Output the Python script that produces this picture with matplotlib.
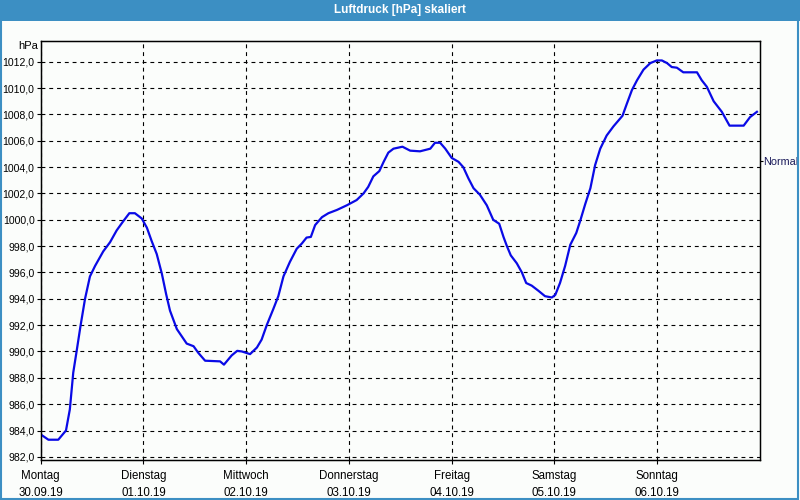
import matplotlib.pyplot as plt
from matplotlib.patches import Rectangle

plt.rcParams['font.family'] = ['Liberation Sans', 'DejaVu Sans']

# Stunden ab Montag 30.09.19 00:00 und Luftdruck in hPa
hours = [0.0, 1.8, 4.1, 5.9, 6.8, 7.6, 8.4, 9.3, 10.35, 11.5, 12.7, 14.6, 16.2,
         17.75, 19.3, 20.7, 22.0, 23.6, 24.8, 25.9, 27.1, 28.3, 29.3, 30.2, 31.8,
         34.1, 35.7, 36.8, 38.4, 41.9, 42.8, 44.6, 45.9, 47.0, 48.9, 50.5, 51.6,
         52.8, 54.3, 55.5, 56.7, 58.2, 59.8, 61.0, 62.1, 63.1, 64.1, 65.7, 67.2,
         69.2, 71.5, 73.8, 75.4, 76.5, 77.7, 79.1, 80.1, 81.2, 82.4, 84.5, 86.3,
         88.6, 91.0, 92.1, 93.3, 94.5, 96.0, 97.6, 98.7, 99.9, 101.1, 102.6,
         104.2, 105.7, 107.1, 108.1, 108.9, 109.8, 111.2, 112.4, 113.4, 114.7,
         116.3, 117.8, 119.4, 120.2, 121.3, 122.5, 123.7, 125.1, 126.0, 127.2,
         128.4, 129.5, 130.7, 132.2, 133.8, 135.9, 136.9, 138.1, 139.3, 140.8,
         142.4, 143.9, 145.1, 146.3, 147.4, 148.6, 150.1, 153.3, 154.4, 155.6,
         157.2, 159.1, 160.9, 164.2, 165.7, 167.3]
pressure = [983.7, 983.3, 983.3, 984.0, 985.6, 988.4, 990.05, 991.95, 994.0,
            995.7, 996.5, 997.6, 998.3, 999.2, 999.9, 1000.5, 1000.5, 1000.1,
            999.4, 998.4, 997.4, 995.9, 994.35, 993.1, 991.7, 990.6, 990.4,
            989.9, 989.3, 989.25, 989.0, 989.7, 990.05, 990.0, 989.8, 990.3,
            990.9, 992.0, 993.2, 994.2, 995.7, 996.8, 997.8, 998.2, 998.65,
            998.7, 999.6, 1000.2, 1000.5, 1000.75, 1001.1, 1001.5, 1002.0,
            1002.5, 1003.3, 1003.7, 1004.4, 1005.1, 1005.4, 1005.55, 1005.25,
            1005.2, 1005.4, 1005.85, 1005.85, 1005.4, 1004.7, 1004.4, 1004.0,
            1003.15, 1002.4, 1001.9, 1001.1, 1000.0, 999.7, 998.7, 998.0, 997.3,
            996.7, 996.0, 995.2, 995.0, 994.6, 994.2, 994.1, 994.3, 995.2,
            996.5, 998.1, 999.0, 999.9, 1001.2, 1002.4, 1004.15, 1005.4, 1006.4,
            1007.1, 1007.9, 1008.8, 1009.85, 1010.6, 1011.4, 1011.9, 1012.1,
            1012.1, 1011.9, 1011.6, 1011.55, 1011.2, 1011.2, 1010.6, 1010.1,
            1009.0, 1008.2, 1007.15, 1007.15, 1007.8, 1008.2]

day_names = ['Montag', 'Dienstag', 'Mittwoch', 'Donnerstag', 'Freitag', 'Samstag', 'Sonntag']
day_dates = ['30.09.19', '01.10.19', '02.10.19', '03.10.19', '04.10.19', '05.10.19', '06.10.19']
y_ticks = [982, 984, 986, 988, 990, 992, 994, 996, 998, 1000, 1002, 1004, 1006, 1008, 1010, 1012]
normal_value = 1004.5

fig = plt.figure(figsize=(8, 5), dpi=100)
fig.patch.set_facecolor('#fbfdfb')

# Titelleiste und Rahmen
fig.patches.append(Rectangle((0, 0.959), 1, 0.041, transform=fig.transFigure,
                             facecolor='#3c8fc3', edgecolor='none', zorder=0))
fig.patches.append(Rectangle((0.001, 0.003), 0.997, 0.99, transform=fig.transFigure,
                             facecolor='none', edgecolor='#3c8fc3', lw=1.5, zorder=0))
fig.text(0.5, 0.979, 'Luftdruck [hPa] skaliert', color='white', fontsize=8.5,
         fontweight='bold', ha='center', va='center')

ax = fig.add_axes([0.0509, 0.08, 0.899, 0.8386])
ax.set_facecolor('#fbfdfb')
ax.plot(hours, pressure, color='#0a0ae6', lw=1.6, zorder=3)

ax.set_xlim(0, 168)
ax.set_ylim(981.76, 1013.6)

ax.set_yticks(y_ticks)
ax.set_yticklabels([('%.1f' % v).replace('.', ',') for v in y_ticks], fontsize=7.6)
ax.set_xticks([24 * i for i in range(len(day_names))])
ax.set_xticklabels([n + '\n' + d for n, d in zip(day_names, day_dates)],
                   fontsize=8.3, linespacing=1.55)
ax.tick_params(direction='out', length=3, width=0.8, pad=1.5, colors='black')
ax.tick_params(axis='x', pad=4)

ax.grid(True, color='black', lw=0.8, linestyle=(0, (3.5, 3.5)))
for s in ax.spines.values():
    s.set_linewidth(1.0)
    s.set_color('black')

# Normaldruck-Markierung rechts
ax2 = ax.twinx()
ax2.set_ylim(ax.get_ylim())
ax2.set_yticks([normal_value])
ax2.set_yticklabels(['Normal'], fontsize=7.8, color='#1a1a5a')
ax2.tick_params(direction='out', length=2, width=0.8, pad=0.5)

fig.text(38 / 800, 1 - 46 / 500, 'hPa', fontsize=8, ha='right', va='center')

fig.savefig('out.png', dpi=100, facecolor=fig.get_facecolor())
